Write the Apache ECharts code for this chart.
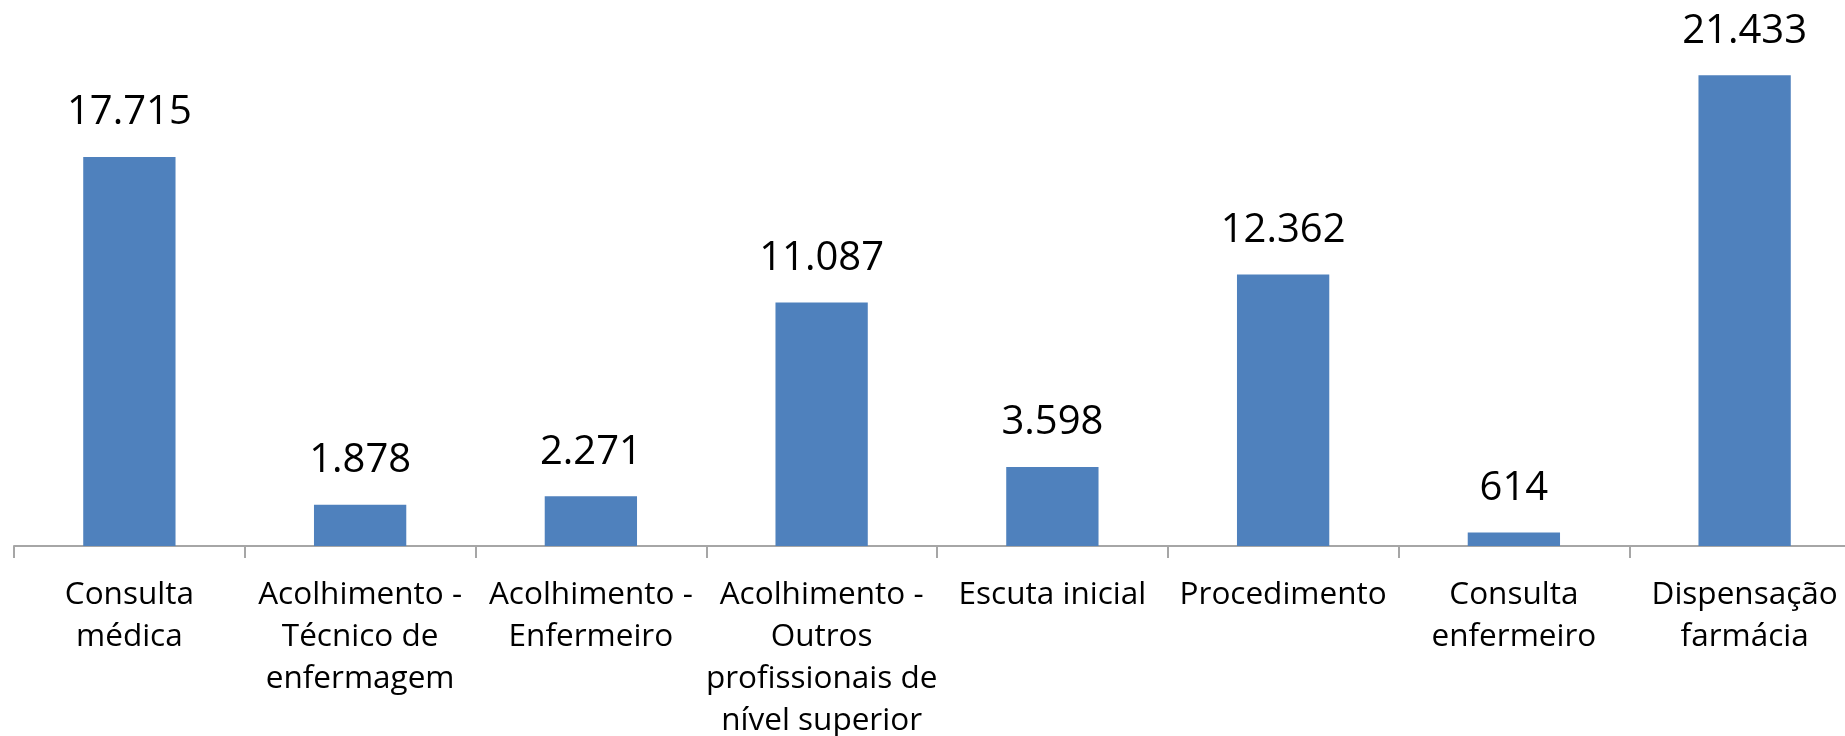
<!DOCTYPE html>
<html>
<head>
<meta charset="utf-8">
<script src="https://cdn.jsdelivr.net/npm/echarts@6/dist/echarts.min.js"></script>
<style>
  html, body { margin: 0; padding: 0; background: #fff; }
  #chart { width: 1845px; height: 736px; }
</style>
</head>
<body>
<div id="chart"></div>
<script>
var categories = [
  "Consulta\nmédica",
  "Acolhimento -\nTécnico de\nenfermagem",
  "Acolhimento -\nEnfermeiro",
  "Acolhimento -\nOutros\nprofissionais de\nnível superior",
  "Escuta inicial",
  "Procedimento",
  "Consulta\nenfermeiro",
  "Dispensação\nfarmácia"
];
var values = [17715, 1878, 2271, 11087, 3598, 12362, 614, 21433];

function fmt(v) {
  return String(v).replace(/\B(?=(\d{3})+(?!\d))/g, ".");
}

var chart = echarts.init(document.getElementById("chart"));
var option = {
  animation: false,
  textStyle: { fontFamily: "Open Sans" },
  // plot area runs a little past the right edge, as in the original
  grid: { left: 14, right: -15, top: 19, bottom: 190, outerBoundsMode: "none", containLabel: false },
  xAxis: {
    type: "category",
    data: categories,
    axisLine: { lineStyle: { color: "#a6a6a6", width: 2 } },
    axisTick: { show: true, alignWithLabel: false, length: 12, lineStyle: { color: "#a6a6a6", width: 2 } },
    axisLabel: {
      interval: 0,
      color: "#000",
      fontSize: 31.5,
      lineHeight: 42,
      margin: 28
    }
  },
  yAxis: {
    type: "value",
    min: 0,
    max: 24000,
    show: false,
    splitLine: { show: false }
  },
  series: [
    {
      type: "bar",
      data: values,
      barWidth: "40%",
      itemStyle: { color: "#4f81bd" },
      label: {
        show: true,
        position: "top",
        distance: 24,
        color: "#000",
        fontSize: 40,
        formatter: function (p) {
          return fmt(p.value);
        }
      }
    }
  ]
};
chart.setOption(option);
</script>
</body>
</html>
